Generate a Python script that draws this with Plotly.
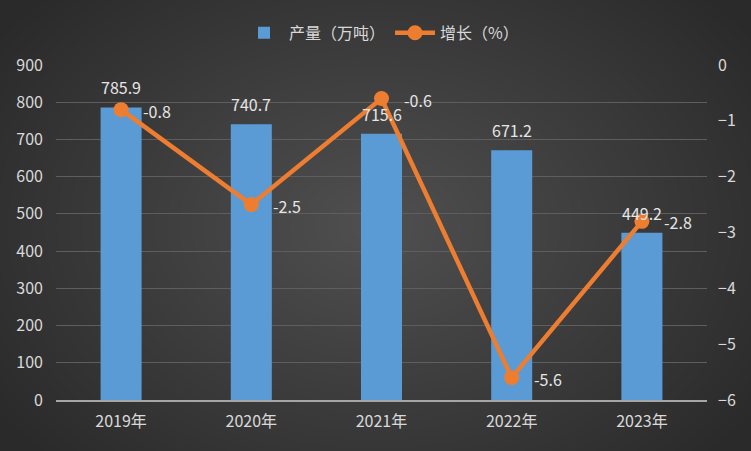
import base64, struct, zlib
import numpy as np
import plotly.graph_objects as go

years = ["2019年", "2020年", "2021年", "2022年", "2023年"]
output = [785.9, 740.7, 715.6, 671.2, 449.2]
growth = [-0.8, -2.5, -0.6, -5.6, -2.8]
output_labels = ["785.9", "740.7", "715.6", "671.2", "449.2"]
growth_labels = ["-0.8", "-2.5", "-0.6", "-5.6", "-2.8"]

W, H = 751, 451
ML, MR, MT, MB = 56, 44, 65, 51


def gradient_png(w, h):
    yy, xx = np.mgrid[0:h, 0:w].astype(float)
    cx, cy = w * 0.5, h * 0.5
    d = np.sqrt(((xx - cx) / (w * 0.62)) ** 2 + ((yy - cy) / (h * 0.75)) ** 2)
    d = np.clip(d, 0, 1)
    v = 80 - (80 - 42) * d
    img = v.astype(np.uint8)
    raw = b"".join(b"\x00" + img[r].tobytes() for r in range(h))

    def chunk(tag, data):
        c = struct.pack(">I", len(data)) + tag + data
        return c + struct.pack(">I", zlib.crc32(tag + data) & 0xFFFFFFFF)

    png = b"\x89PNG\r\n\x1a\n"
    png += chunk(b"IHDR", struct.pack(">IIBBBBB", w, h, 8, 0, 0, 0, 0))
    png += chunk(b"IDAT", zlib.compress(raw, 9))
    png += chunk(b"IEND", b"")
    return "data:image/png;base64," + base64.b64encode(png).decode()


pw = W - ML - MR
ph = H - MT - MB

FONT = "Noto Sans CJK SC"
TXT = "#d9d9d9"
LBL = "#e6e6e6"

fig = go.Figure()
fig.add_trace(go.Bar(
    x=years, y=output, name="产量（万吨）",
    marker=dict(color="#5b9bd5", line=dict(width=0)),
    yaxis="y",
))
fig.add_trace(go.Scatter(
    x=years, y=growth, name="增长（%）", mode="lines+markers",
    line=dict(color="#ed7d31", width=4.5),
    marker=dict(color="#ed7d31", size=15),
    cliponaxis=False,
    yaxis="y2",
))

annotations = [
    dict(x=xv, y=yv, xref="x", yref="y", text=t, showarrow=False,
         yshift=20, font=dict(color=LBL, size=16, family=FONT))
    for xv, yv, t in zip(years, output, output_labels)
]
annotations += [
    dict(x=xv, y=yv, xref="x", yref="y2", text=t, showarrow=False,
         xanchor="left", xshift=20, yshift=-1, font=dict(color=LBL, size=16, family=FONT))
    for xv, yv, t in zip(years, growth, growth_labels)
]

fig.update_layout(
    width=W, height=H,
    margin=dict(l=ML, r=MR, t=MT, b=MB, autoexpand=False),
    paper_bgcolor="#3a3a3a",
    plot_bgcolor="rgba(0,0,0,0)",
    font=dict(family=FONT, color=TXT, size=16),
    bargap=0.685,
    showlegend=True,
    annotations=annotations,
    legend=dict(orientation="h", x=0.5, xanchor="center", y=0.965, yref="container",
                yanchor="top", font=dict(size=16, color=TXT, family=FONT),
                bgcolor="rgba(0,0,0,0)", itemwidth=40),
    xaxis=dict(showgrid=False, showline=True, linecolor="#a6a6a6", linewidth=2,
               tickfont=dict(size=16, color=TXT), ticks="", ticklabelstandoff=6),
    yaxis=dict(range=[0, 900], dtick=100, showgrid=True, gridcolor="#5e5e5e", gridwidth=1,
               zeroline=False, showline=False, tickfont=dict(size=16, color=TXT),
               ticklabelstandoff=12),
    yaxis2=dict(range=[-6, 0], dtick=1, overlaying="y", side="right", showgrid=False,
                zeroline=False, showline=False, tickfont=dict(size=16, color=TXT),
                ticklabelstandoff=10),
    images=[dict(source=gradient_png(W, H), xref="paper", yref="paper",
                 x=-ML / pw, y=1 + MT / ph, sizex=W / pw, sizey=H / ph,
                 xanchor="left", yanchor="top", sizing="stretch", layer="below")],
)

fig.write_html("out.html", config={"displayModeBar": False},
               post_script="document.body.style.margin='0';document.body.style.overflow='hidden';")
